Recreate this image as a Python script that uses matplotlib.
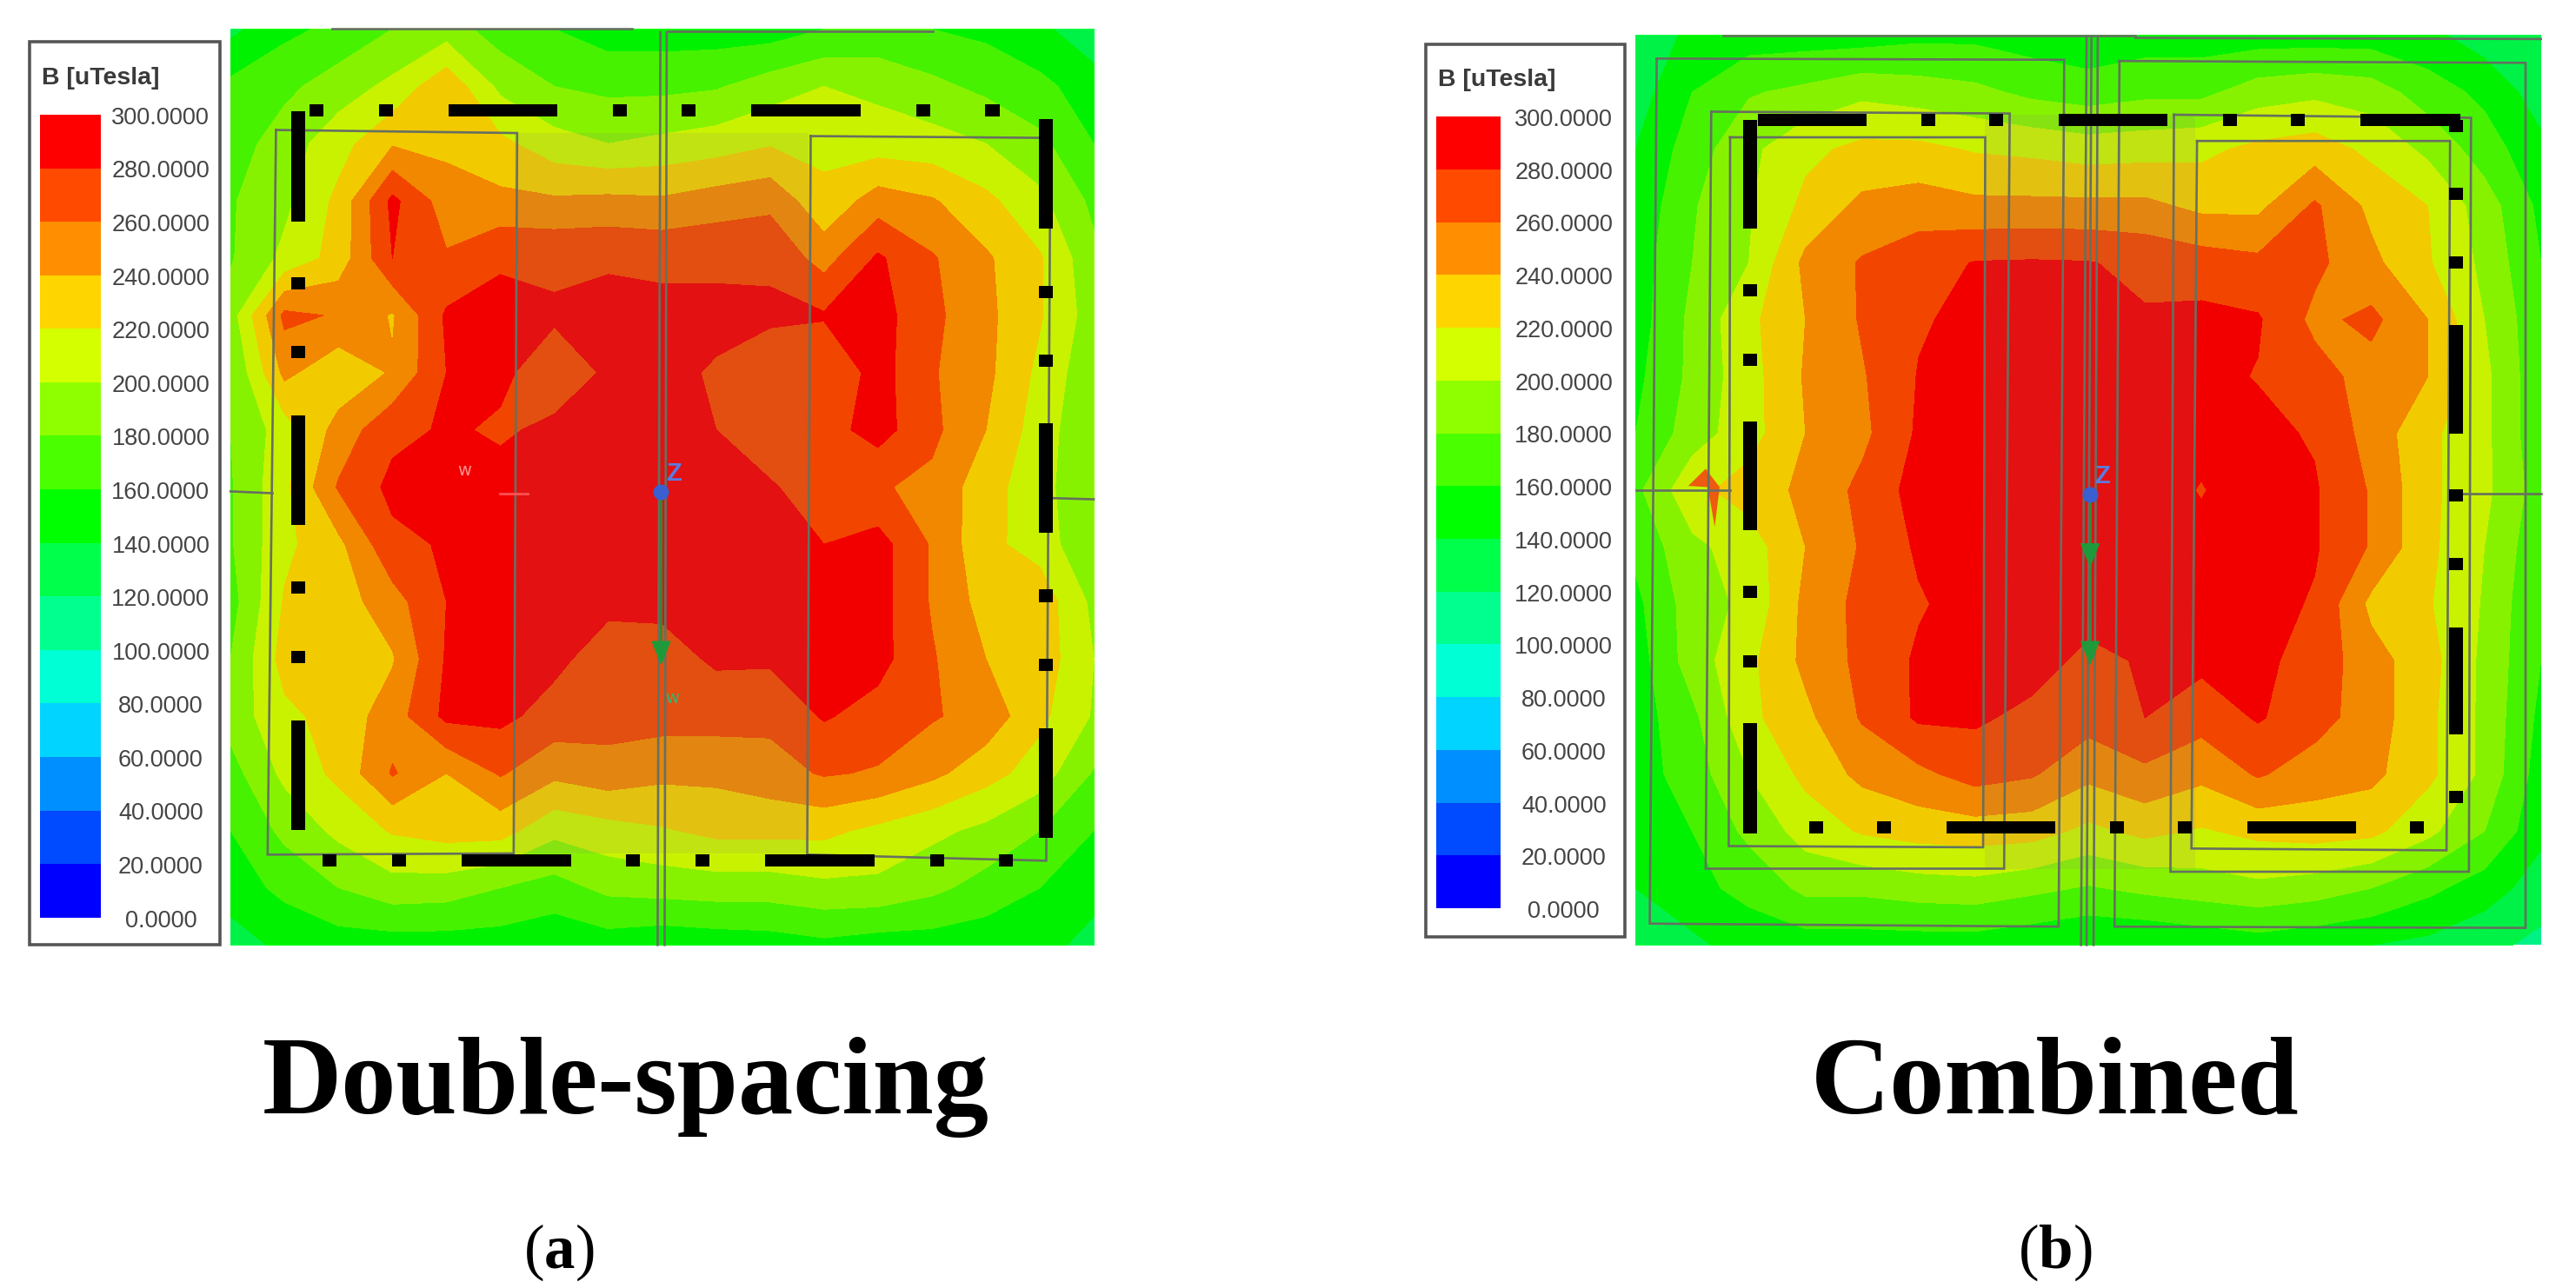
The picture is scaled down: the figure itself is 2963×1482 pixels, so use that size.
import numpy as np
import matplotlib
matplotlib.use("Agg")
import matplotlib.pyplot as plt
from matplotlib.patches import Rectangle, Polygon

plt.rcParams['mathtext.fontset'] = 'custom'
plt.rcParams['mathtext.rm'] = 'Liberation Serif'
plt.rcParams['mathtext.bf'] = 'Liberation Serif:bold'

levels = list(range(0, 320, 20))
colors = ['#0000ff', '#004aff', '#008fff', '#00d4ff', '#00ffd4', '#00ff8f', '#00ff4a', '#00ff00',
          '#4aff00', '#8fff00', '#d4ff00', '#ffd500', '#ff8f00', '#ff4a00', '#ff0000']
tick_labels = ['%.4f' % v for v in levels]
legend_title = 'B [uTesla]'
titles = ['Double-spacing', 'Combined']
captions = [r'($\mathbf{a}$)', r'($\mathbf{b}$)']

# Field B (uTesla) read on a coarse mesh, top row first
field_a = [
 [135,155,165,180,190,170,160,150,150,150,150,160,165,160,155,145,125],
 [165,175,190,205,235,195,180,175,175,178,190,200,195,185,175,165,150],
 [170,190,212,238,235,225,208,200,205,210,218,215,210,208,200,185,160],
 [178,195,225,285,250,245,243,245,243,250,255,225,250,242,225,205,175],
 [178,205,228,280,262,278,277,278,276,276,275,252,283,262,243,222,185],
 [190,265,258,238,283,285,282,285,285,285,285,282,288,265,245,222,190],
 [180,245,225,242,280,283,272,282,285,278,262,262,288,262,245,215,185],
 [180,210,248,275,282,278,283,285,285,280,262,272,288,265,240,210,182],
 [178,215,262,285,285,285,285,285,285,285,283,265,262,255,228,208,180],
 [178,215,235,275,282,288,285,285,285,285,283,280,288,258,225,212,180],
 [172,222,230,252,280,285,285,285,285,285,282,288,288,258,232,232,195],
 [180,228,240,238,282,288,285,270,272,283,283,285,287,262,240,232,200],
 [188,215,228,250,285,285,272,268,268,268,265,282,272,262,252,225,198],
 [172,205,225,262,240,262,245,252,245,245,252,262,258,245,228,210,178],
 [160,185,205,222,228,228,205,212,218,225,225,225,215,205,195,180,160],
 [150,165,180,192,190,180,172,185,188,190,190,195,195,185,172,160,145],
 [130,145,150,150,150,150,145,150,145,148,150,155,150,150,148,145,135],
]
field_b = [
 [125,145,150,150,150,155,155,150,145,150,150,150,150,150,145,130,120],
 [130,160,178,185,195,190,185,175,170,175,175,190,195,190,170,155,130],
 [140,170,195,215,225,225,218,215,210,212,215,225,230,215,195,170,145],
 [145,178,198,225,245,250,245,245,245,245,235,235,263,235,220,190,155],
 [150,180,200,245,262,272,281,282,281,275,270,265,265,245,222,195,160],
 [150,185,215,240,262,278,285,285,285,282,285,282,255,265,240,200,165],
 [155,185,212,242,258,281,285,285,285,285,285,279,268,252,240,205,165],
 [160,190,212,240,255,283,288,288,285,288,285,285,278,252,225,205,165],
 [175,215,228,245,265,288,288,288,288,288,279,290,282,258,225,205,170],
 [165,195,210,240,262,283,288,288,285,288,285,288,282,258,225,200,165],
 [155,190,205,245,266,278,288,288,288,288,285,288,278,235,222,198,160],
 [150,190,215,245,265,283,288,288,275,282,285,285,272,248,228,195,160],
 [150,175,215,235,262,283,283,275,268,280,268,282,268,250,225,195,155],
 [150,170,200,225,245,255,268,262,245,255,245,262,250,245,225,195,150],
 [145,160,185,208,222,228,230,228,215,225,218,225,228,225,205,180,145],
 [140,155,165,185,185,190,192,185,178,185,190,195,190,180,165,150,130],
 [125,135,150,150,150,150,150,145,140,140,145,150,145,140,135,125,115],
]

W, H, DPI = 2963, 1482, 100
fig = plt.figure(figsize=((W + .4) / DPI, (H + .4) / DPI), dpi=DPI, facecolor='white')
SX, SY = 1.244, 1.424


def panel_axes(x0, y0, x1, y1):
    ax = fig.add_axes([x0 / W, 1 - y1 / H, (x1 - x0) / W, (y1 - y0) / H])
    ax.set_xlim(0, (x1 - x0) * SX)
    ax.set_ylim((y1 - y0) * SY, 0)
    ax.axis('off')
    return ax


def draw_legend(ax, box, band_u, band_v, tick_u):
    ax.add_patch(Rectangle((box[0], box[1]), box[2] - box[0], box[3] - box[1], fc='white', ec='#555555', lw=2.6))
    edges = np.linspace(band_v[1], band_v[0], len(levels))
    for i, c in enumerate(colors):
        ax.add_patch(Rectangle((band_u[0], edges[i]), band_u[1] - band_u[0], edges[i + 1] - edges[i], fc=c, ec='none'))
    tick_v = np.linspace(band_v[1] + 5, band_v[0] + 5, len(levels))
    for v, lab in zip(tick_v, tick_labels):
        ax.text(tick_u, v, lab, ha='center', va='center', fontsize=19.5, color='#444444', family='Liberation Sans')
    ax.text(box[0] + 18, band_v[0] - 60, legend_title, ha='left', va='center', fontsize=20.5,
            fontweight='bold', color='#3a3a3a', family='Liberation Sans')


def blocks(ax, horizontal, cross, squares, bars):
    t = 20
    for s in squares:
        r = (s - 10, cross - 10, 20, t) if horizontal else (cross - 10, s - 10, 20, t)
        ax.add_patch(Rectangle(r[:2], r[2], r[3], fc='black', ec='none', zorder=6))
    for a, b in bars:
        r = (a, cross - 10, b - a, t) if horizontal else (cross - 10, a, t, b - a)
        ax.add_patch(Rectangle(r[:2], r[2], r[3], fc='black', ec='none', zorder=6))


def lines(ax, polys, closed=True):
    for p in polys:
        p = np.array(p + ([p[0]] if closed else []))
        ax.plot(p[:, 0], p[:, 1], color='#667060', lw=1.9, zorder=5, solid_joinstyle='miter')


def triad(ax, u, v, arrow_vs):
    ax.plot([u, u], [v, arrow_vs[-1]], color='#2e8b3a', lw=2, zorder=7)
    for av in arrow_vs:
        ax.add_patch(Polygon([(u - 14, av - 18), (u + 14, av - 18), (u, av + 22)], fc='#1f9a3a', ec='none', zorder=7))
    ax.plot([u], [v], 'o', color='#3a5fd0', ms=12, zorder=8)
    ax.text(u + 18, v - 30, 'Z', color='#5a7be0', fontsize=21, fontweight='bold', ha='center', va='center',
            family='Liberation Sans', zorder=8)


# ---------- panel a ----------
axa = panel_axes(20, 20, 1280, 1120)
ua = np.linspace(305, 1540, 17)
va = np.linspace(20, 1520, 17)
axa.contourf(ua, va, np.array(field_a), levels=levels, colors=colors, extend='max', zorder=1)
axa.add_patch(Rectangle((305, 20), 1235, 1500, fc='black', alpha=.05, ec='none', zorder=2))
axa.add_patch(Rectangle((712, 190), 420, 1180, fc='#858585', alpha=.13, ec='none', zorder=2))
draw_legend(axa, (17, 40, 290, 1520), (32, 120), (160, 1475), 205)
lines(axa, [[(370, 185), (715, 190), (710, 1370), (358, 1372)],
            [(1135, 195), (1478, 198), (1472, 1382), (1130, 1372)]])
lines(axa, [[(920, 25), (916, 1520)], [(929, 25), (926, 1520)], [(305, 777), (365, 780)],
            [(1480, 788), (1540, 790)], [(450, 19), (880, 19)], [(930, 24), (1310, 24)]], closed=False)
blocks(axa, True, 153, [428, 527, 862, 960, 1296, 1395], [(617, 772), (1050, 1207)])
blocks(axa, True, 1382, [447, 546, 881, 980, 1316, 1414], [(636, 792), (1070, 1226)])
blocks(axa, False, 402, [436, 549, 935, 1048], [(155, 335), (652, 832), (1152, 1332)])
blocks(axa, False, 1471, [450, 563, 948, 1061], [(167, 347), (665, 845), (1165, 1345)])
triad(axa, 921, 778, [1040])
axa.plot([690, 730], [780, 780], color='#ff5050', lw=2, zorder=7)
axa.text(640, 742, 'w', color='#ff9090', fontsize=14, ha='center', va='center', zorder=7)
axa.text(937, 1115, 'w', color='#40b070', fontsize=14, ha='center', va='center', zorder=7)

# ---------- panel b ----------
axb = panel_axes(1620, 20, 2963, 1120)
ub = np.linspace(325, 1620, 17)
vb = np.linspace(30, 1520, 17)
axb.contourf(ub, vb, np.array(field_b), levels=levels, colors=colors, extend='max', zorder=1)
axb.add_patch(Rectangle((325, 30), 1295, 1490, fc='black', alpha=.05, ec='none', zorder=2))
axb.add_patch(Rectangle((825, 160), 300, 1235, fc='#858585', alpha=.13, ec='none', zorder=2))
axb.add_patch(Polygon([(400, 768), (425, 740), (445, 770), (438, 835), (428, 770)], fc='#ee5a10', ec='none', zorder=3))
draw_legend(axb, (24, 44, 310, 1507), (40, 132), (163, 1460), 222)
lines(axb, [[(355, 68), (938, 70), (930, 1490), (345, 1485)], [(433, 155), (860, 158), (852, 1395), (425, 1395)],
            [(460, 197), (825, 197), (822, 1360), (458, 1358)], [(1017, 72), (1598, 75), (1598, 1492), (1010, 1490)],
            [(1095, 160), (1520, 165), (1517, 1400), (1090, 1400)], [(1128, 203), (1490, 203), (1485, 1365), (1120, 1362)]])
lines(axb, [[(970, 32), (962, 1520)], [(977, 32), (970, 1520)], [(986, 32), (980, 1520)], [(325, 775), (460, 775)],
            [(1500, 780), (1620, 780)], [(450, 30), (1040, 30)], [(1040, 34), (1620, 36)]], closed=False)
blocks(axb, True, 168, [743, 841, 1175, 1272], [(500, 655), (930, 1086), (1362, 1505)])
blocks(axb, True, 1327, [583, 680, 1014, 1111, 1443], [(770, 925), (1200, 1356)])
blocks(axb, False, 488, [448, 561, 942, 1055], [(168, 347), (663, 840), (1157, 1338)])
blocks(axb, False, 1498, [178, 289, 402, 783, 896, 1277], [(505, 682), (1000, 1175)])
triad(axb, 975, 782, [880, 1040])

# ---------- captions ----------
for x, y, s in [(720, 1281, titles[0]), (2363, 1281, titles[1])]:
    fig.text(x / W, 1 - y / H, s, ha='center', va='baseline', fontsize=91, fontweight='bold',
             family='Liberation Serif', color='black')
for x, s in [(643, captions[0]), (2363, captions[1])]:
    fig.text(x / W, 1 - 1458 / H, s, ha='center', va='baseline', fontsize=51, family='Liberation Serif', color='black')

fig.savefig('out.png', dpi=DPI, facecolor='white')
